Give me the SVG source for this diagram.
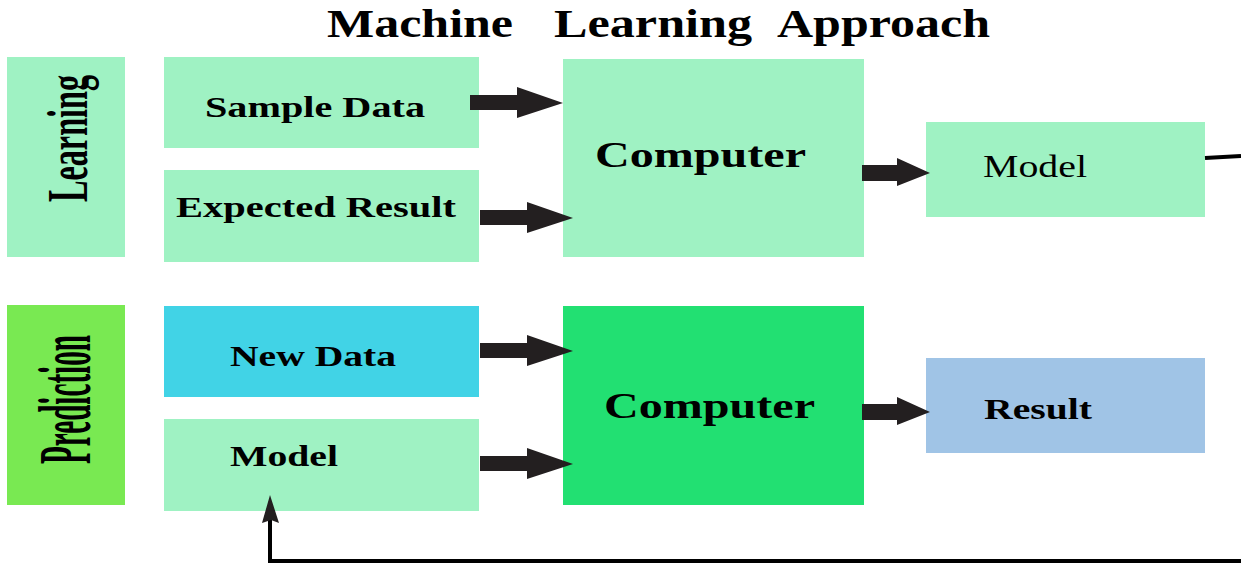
<svg xmlns="http://www.w3.org/2000/svg" width="1241" height="564" viewBox="0 0 1241 564">
<style>
.lg{fill:#9ff2c3}
.t{font-family:"Liberation Serif","Times New Roman",serif;font-weight:bold;fill:#000}
.n{font-family:"Liberation Serif","Times New Roman",serif;font-weight:normal;fill:#000}
.ar{fill:#231f20}
.fb{fill:none;stroke:#000;stroke-width:4}
</style>
<defs>
<path id="arrow" d="M0,-8 L47,-8 L47,-16 L93,0 L47,15 L47,7 L0,7 Z"/>
<path id="arrowS" d="M0,-8 L35,-8 L35,-15 L68,0 L35,13 L35,8 L0,8 Z"/>
</defs>
<rect width="1241" height="564" fill="#fff"/>
<text class="t" font-size="40" y="37"><tspan x="327" textLength="186" lengthAdjust="spacingAndGlyphs">Machine</tspan><tspan x="554" textLength="198" lengthAdjust="spacingAndGlyphs">Learning</tspan><tspan x="777" textLength="213" lengthAdjust="spacingAndGlyphs">Approach</tspan></text>

<g id="learning">
<rect class="lg" x="7" y="57" width="118" height="200"/>
<text class="t" font-size="56" transform="translate(87,202) rotate(-90)" textLength="127" lengthAdjust="spacingAndGlyphs">Learning</text>
</g>
<g id="prediction">
<rect x="7" y="305" width="118" height="200" fill="#79e952"/>
<text class="t" font-size="74" transform="translate(90,464) rotate(-90)" textLength="129" lengthAdjust="spacingAndGlyphs">Prediction</text>
</g>
<g id="sample-data">
<rect class="lg" x="164" y="57" width="315" height="91"/>
<text class="t" font-size="29" x="205" y="117" textLength="220" lengthAdjust="spacingAndGlyphs">Sample Data</text>
</g>
<g id="expected-result">
<rect class="lg" x="164" y="170" width="315" height="92"/>
<text class="t" font-size="29" x="176" y="217" textLength="280" lengthAdjust="spacingAndGlyphs">Expected Result</text>
</g>
<g id="computer-learning">
<rect class="lg" x="563" y="59" width="301" height="198"/>
<text class="t" font-size="36" x="595" y="167" textLength="211" lengthAdjust="spacingAndGlyphs">Computer</text>
</g>
<g id="model-learning">
<rect class="lg" x="926" y="122" width="279" height="95"/>
<text class="n" font-size="31" x="983" y="177" textLength="104" lengthAdjust="spacingAndGlyphs">Model</text>
</g>
<g id="new-data">
<rect x="164" y="306" width="315" height="91" fill="#41d3e6"/>
<text class="t" font-size="29" x="230" y="366" textLength="166" lengthAdjust="spacingAndGlyphs">New Data</text>
</g>
<g id="model-prediction">
<rect class="lg" x="164" y="419" width="315" height="92"/>
<text class="t" font-size="29" x="230" y="466" textLength="108" lengthAdjust="spacingAndGlyphs">Model</text>
</g>
<g id="computer-prediction">
<rect x="563" y="306" width="301" height="199" fill="#22e072"/>
<text class="t" font-size="36" x="604" y="418" textLength="211" lengthAdjust="spacingAndGlyphs">Computer</text>
</g>
<g id="result">
<rect x="926" y="358" width="279" height="95" fill="#a0c4e6"/>
<text class="t" font-size="29" x="984" y="419" textLength="108" lengthAdjust="spacingAndGlyphs">Result</text>
</g>

<g id="connectors">
<use href="#arrow" class="ar" x="470" y="103"/>
<use href="#arrow" class="ar" x="480" y="218"/>
<use href="#arrowS" class="ar" x="862" y="173"/>
<use href="#arrow" class="ar" x="480" y="351"/>
<use href="#arrow" class="ar" x="480" y="464"/>
<use href="#arrowS" class="ar" x="862" y="412"/>
<path class="fb" d="M1205,158 L1241,156"/>
<path class="fb" d="M1241,561 L270,561 L270,518"/>
<path class="ar" d="M270,495 L279,523 L271,520 L262,523 Z"/>
</g>
</svg>
